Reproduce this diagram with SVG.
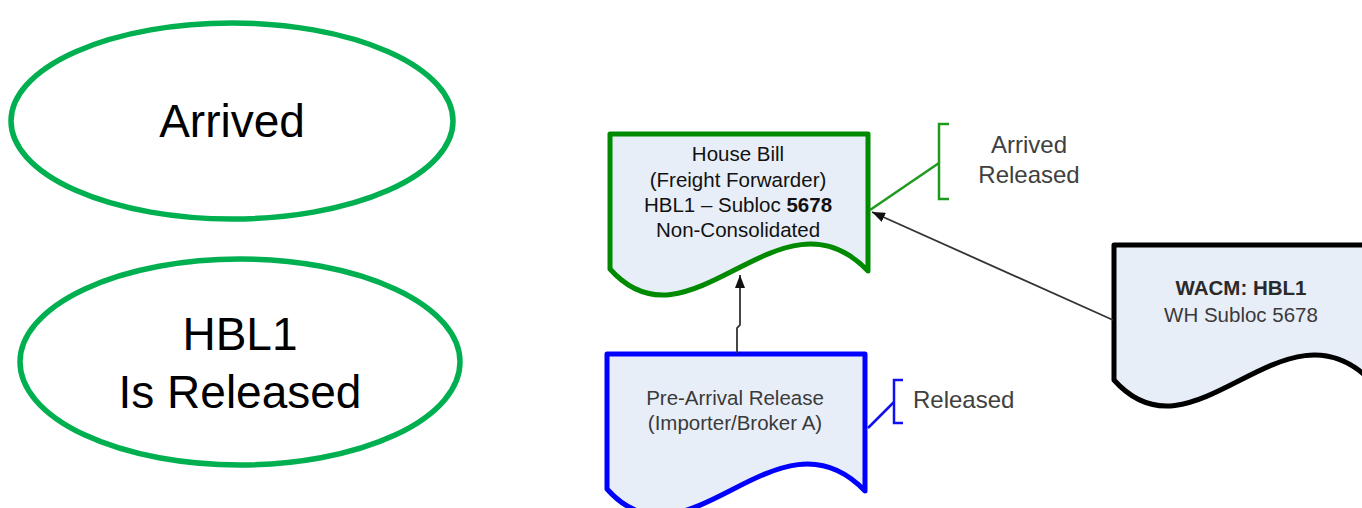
<svg xmlns="http://www.w3.org/2000/svg" width="1362" height="508" viewBox="0 0 1362 508">
<style>
.ell{fill:#fff;stroke:#00B050;stroke-width:5.5}
.big{font-family:"Liberation Sans",Arial,sans-serif;font-size:46px;fill:#000;text-anchor:middle}
.doc{fill:#E8EEF8;stroke-width:5;stroke-linejoin:round}
.t{font-family:"Liberation Sans",Arial,sans-serif;font-size:20.5px;text-anchor:middle}
.lbl{font-family:"Liberation Sans",Arial,sans-serif;font-size:24px;fill:#404040}
.conn{fill:none;stroke:#333;stroke-width:1.8}
.brg{fill:none;stroke:#1E9A1E;stroke-width:2.5}
.brb{fill:none;stroke:#1010F0;stroke-width:2.5}
</style>
<defs>
<marker id="ah" markerUnits="userSpaceOnUse" markerWidth="14" markerHeight="10" refX="13" refY="5" orient="auto">
<path d="M0,0 L13,5 L0,10 z" fill="#111"/>
</marker>
<path id="docshape" d="M0,0 H258 V137 C170,45 80,225 0,135 Z"/>
</defs>

<g id="node-arrived">
<ellipse class="ell" cx="232" cy="121" rx="221" ry="98"/>
<text class="big" x="232" y="137">Arrived</text>
</g>

<g id="node-hbl1-released">
<ellipse class="ell" cx="240" cy="362" rx="220" ry="103"/>
<text class="big" x="240" y="350">HBL1</text>
<text class="big" x="240" y="408">Is Released</text>
</g>

<g id="node-house-bill">
<use href="#docshape" transform="translate(610,134)" class="doc" stroke="#008A00"/>
<text class="t" x="738" y="161" fill="#111">House Bill</text>
<text class="t" x="738" y="187" fill="#111">(Freight Forwarder)</text>
<text class="t" x="738" y="212" fill="#111">HBL1 – Subloc <tspan font-weight="bold">5678</tspan></text>
<text class="t" x="738" y="237" fill="#111">Non-Consolidated</text>
</g>

<g id="node-pre-arrival">
<use href="#docshape" transform="translate(607,354)" class="doc" stroke="#0000FF"/>
<text class="t" x="735" y="405" fill="#3A3A3A">Pre-Arrival Release</text>
<text class="t" x="735" y="430" fill="#3A3A3A">(Importer/Broker A)</text>
</g>

<g id="node-wacm">
<use href="#docshape" transform="translate(1114,245)" class="doc" stroke="#000"/>
<text class="t" x="1241" y="295" fill="#2A2A2A" font-weight="bold">WACM: HBL1</text>
<text class="t" x="1241" y="322" fill="#3A3A3A">WH Subloc 5678</text>
</g>

<g id="label-arrived-released">
<path class="brg" d="M949,124 H939 V199 H949"/>
<text class="lbl" x="1029" y="153" text-anchor="middle">Arrived</text>
<text class="lbl" x="1029" y="183" text-anchor="middle">Released</text>
</g>

<g id="label-released">
<path class="brb" d="M903,380 H894 V423 H903"/>
<text class="lbl" x="913" y="408">Released</text>
</g>

<g id="connectors">
<path class="conn" d="M737,353 V328 L740,325 V275" marker-end="url(#ah)"/>
<path class="conn" d="M1113,320 L872,212" marker-end="url(#ah)"/>
<path class="brg" d="M939,163 L870,210"/>
<path class="brb" d="M894,402 L868,428"/>
</g>
</svg>
